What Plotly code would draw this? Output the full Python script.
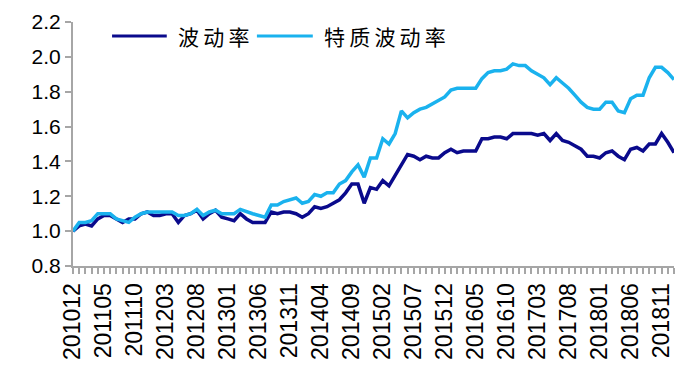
import plotly.graph_objects as go

# months 201012 .. 201901
months = []
y, m = 2010, 12
for _ in range(98):
    months.append(f"{y}{m:02d}")
    m += 1
    if m > 12:
        m = 1
        y += 1

vol = [1.00, 1.03, 1.04, 1.03, 1.07, 1.09, 1.09, 1.07, 1.05, 1.07,
       1.07, 1.10, 1.11, 1.09, 1.09, 1.10, 1.10, 1.05, 1.09, 1.10,
       1.12, 1.07, 1.10, 1.12, 1.08, 1.07, 1.06, 1.10, 1.07, 1.05,
       1.05, 1.05, 1.11, 1.10, 1.11, 1.11, 1.10, 1.08, 1.10, 1.14,
       1.13, 1.14, 1.16, 1.18, 1.22, 1.27, 1.27, 1.16, 1.25, 1.24,
       1.29, 1.26, 1.32, 1.38, 1.44, 1.43, 1.41, 1.43, 1.42, 1.42,
       1.45, 1.47, 1.45, 1.46, 1.46, 1.46, 1.53, 1.53, 1.54, 1.54,
       1.53, 1.56, 1.56, 1.56, 1.56, 1.55, 1.56, 1.52, 1.56, 1.52,
       1.51, 1.49, 1.47, 1.43, 1.43, 1.42, 1.45, 1.46, 1.43, 1.41,
       1.47, 1.48, 1.46, 1.50, 1.50, 1.56, 1.51, 1.45]

idio = [1.00, 1.05, 1.05, 1.06, 1.10, 1.10, 1.10, 1.07, 1.06, 1.05,
        1.08, 1.10, 1.11, 1.11, 1.11, 1.11, 1.11, 1.09, 1.09, 1.10,
        1.125, 1.09, 1.11, 1.12, 1.10, 1.10, 1.10, 1.125, 1.11, 1.10,
        1.09, 1.08, 1.15, 1.15, 1.17, 1.18, 1.19, 1.16, 1.17, 1.21,
        1.20, 1.22, 1.22, 1.27, 1.29, 1.34, 1.38, 1.31, 1.42, 1.42,
        1.53, 1.50, 1.56, 1.69, 1.65, 1.68, 1.70, 1.71, 1.73, 1.75,
        1.77, 1.81, 1.82, 1.82, 1.82, 1.82, 1.875, 1.91, 1.92, 1.92,
        1.93, 1.96, 1.95, 1.95, 1.92, 1.90, 1.88, 1.84, 1.88, 1.85,
        1.82, 1.78, 1.74, 1.71, 1.70, 1.70, 1.74, 1.74, 1.69, 1.68,
        1.76, 1.78, 1.78, 1.88, 1.94, 1.94, 1.91, 1.87]

tick_labels = [mm if i % 5 == 0 else "" for i, mm in enumerate(months)]
y_ticks = [0.8, 1.0, 1.2, 1.4, 1.6, 1.8, 2.0, 2.2]

series_names = ["波动率", "特质波动率"]
series_colors = ["#0a0a8c", "#1ab2ee"]
series_values = [vol, idio]

fig = go.Figure()
for nm, col, vals in zip(series_names, series_colors, series_values):
    fig.add_trace(go.Scatter(x=months, y=vals, mode="lines", name=nm,
                             line=dict(color=col, width=3.5), showlegend=False))

# custom legend (longer line samples, spaced text as in the reference)
leg_y = 0.943
leg_items = [(0.065, 0.156, 0.171), (0.306, 0.399, 0.414)]
shapes, annotations = [], []
for (x0, x1, xt), nm, col in zip(leg_items, series_names, series_colors):
    shapes.append(dict(type="line", xref="paper", yref="paper", x0=x0, x1=x1,
                       y0=leg_y, y1=leg_y, line=dict(color=col, width=3)))
    annotations.append(dict(xref="paper", yref="paper", x=xt, y=leg_y,
                            xanchor="left", yanchor="middle", showarrow=False,
                            text="\u2009".join(nm),
                            font=dict(family="Noto Sans CJK SC", size=21, color="black")))

axis_col = "#a6a6a6"
fig.update_layout(
    width=687, height=384,
    margin=dict(l=73, r=13, t=22, b=118),
    paper_bgcolor="white", plot_bgcolor="white",
    font=dict(family="Liberation Sans, Arial, sans-serif", color="black"),
    showlegend=False,
    shapes=shapes, annotations=annotations,
    xaxis=dict(type="category", range=[0, 97],
               tickmode="array", tickvals=months, ticktext=tick_labels,
               tickangle=-90, tickfont=dict(size=23),
               ticks="outside", ticklen=6, tickwidth=1.5, tickcolor=axis_col,
               showline=True, linecolor=axis_col, linewidth=2,
               showgrid=False, zeroline=False, automargin=False),
    yaxis=dict(range=[0.8, 2.2], tickmode="array", tickvals=y_ticks,
               ticktext=[f"{v:.1f}" for v in y_ticks], tickfont=dict(size=21),
               ticks="outside", ticklen=6, tickwidth=1.5, tickcolor=axis_col,
               showline=True, linecolor=axis_col, linewidth=2,
               showgrid=False, zeroline=False, automargin=False),
)

fig.write_html("out.html", config={"displayModeBar": False},
               post_script="document.body.style.margin='0';")
